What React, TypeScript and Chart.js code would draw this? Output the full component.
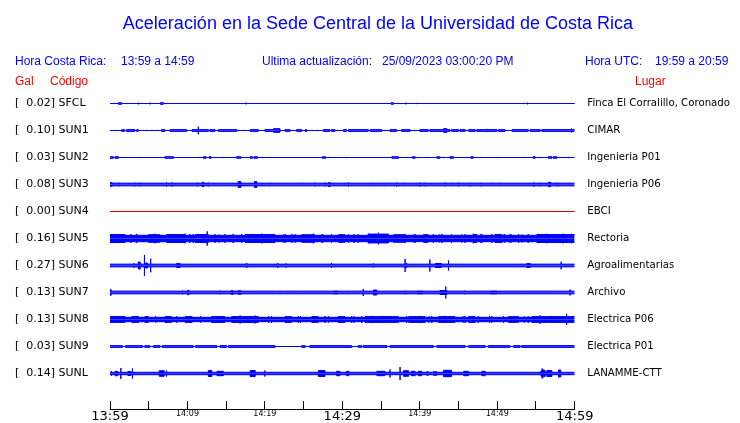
import React, { useEffect, useRef } from "react";
import { Chart, registerables } from "chart.js";
Chart.register(...registerables);

// ---- data ----
const CODES = ["SFCL", "SUN1", "SUN2", "SUN3", "SUN4", "SUN5", "SUN6", "SUN7", "SUN8", "SUN9", "SUNL"];
const GAL = [0.02, 0.10, 0.03, 0.08, 0.00, 0.16, 0.27, 0.13, 0.13, 0.03, 0.14];
const PLACES = [
  "Finca El Corralillo, Coronado", "CIMAR", "Ingenieria P01", "Ingenieria P06", "EBCI",
  "Rectoria", "Agroalimentarias", "Archivo", "Electrica P06", "Electrica P01", "LANAMME-CTT",
];
const TRACE_COLORS = ["#0000ff", "#0000ff", "#0000ff", "#0000ff", "#e00000", "#0000ff", "#0000ff", "#0000ff", "#0000ff", "#0000ff", "#0000ff"];
// minutes after 13:59
const TICK_MINUTES = [0, 5, 10, 15, 20, 25, 30, 35, 40, 45, 50, 55, 60];
const TICK_LABELS = ["13:59", "", "14:09", "", "14:19", "", "14:29", "", "14:39", "", "14:49", "", "14:59"];
const BIG_TICKS = [0, 30, 60];

// noise level (half amplitude, Gal) of each trace
const BASES = [0, 0, 0, 0.034, 0, 0.08, 0.034, 0.034, 0.055, 0.022, 0.03];

// bursts: [minute, halfAmp] single spike, or [fromMinute, toMinute, halfAmp] block
const SFCL_BURSTS = [[1.1, 1.5, 0.02], [2.5, 0.012], [3.7, 0.02], [4.1, 0.012], [5.2, 0.02], [6.5, 6.9, 0.02], [7.3, 0.015], [8.4, 0.012], [17.6, 0.02], [36.3, 36.6, 0.02], [36.9, 0.012], [37.5, 0.012], [38.2, 0.02], [39.6, 0.015], [42.0, 0.012], [42.4, 0.012], [47.5, 0.012], [51.1, 0.012], [53.2, 0.012], [53.9, 0.02]];
const SUN1_BURSTS = [[0.15, 0.015], [0.9, 0.015], [1.5, 1.85, 0.022], [2.15, 3.2, 0.022], [3.45, 3.65, 0.022], [4.8, 0.015], [5.4, 0.015], [6.1, 0.015], [6.65, 7.1, 0.022], [7.75, 9.9, 0.022], [10.6, 12.7, 0.022], [11.4, 0.095], [12.9, 13.55, 0.022], [14.0, 16.35, 0.022], [16.6, 0.015], [17.2, 0.015], [18.1, 19.15, 0.022], [20.0, 21.1, 0.022], [21.1, 21.95, 0.045], [22.6, 23.25, 0.022], [23.6, 0.015], [24.1, 24.75, 0.022], [25.2, 25.4, 0.022], [26.1, 0.015], [26.7, 0.015], [27.55, 28.4, 0.022], [28.6, 29.05, 0.022], [29.4, 0.015], [30.15, 30.55, 0.022], [30.8, 33.35, 0.022], [31.9, 0.035], [33.6, 35.1, 0.022], [35.5, 0.015], [36.15, 37.0, 0.022], [37.65, 38.75, 0.022], [39.3, 0.015], [40.0, 41.1, 0.022], [41.3, 43.05, 0.022], [43.05, 43.5, 0.045], [43.5, 43.9, 0.022], [44.1, 45.0, 0.022], [45.2, 45.85, 0.022], [46.3, 47.15, 0.022], [47.35, 49.95, 0.022], [48.6, 0.04], [50.15, 51.0, 0.022], [51.9, 54.0, 0.022], [54.25, 55.55, 0.022], [55.75, 60, 0.022], [59.6, 0.05]];
const SUN2_BURSTS = [[0, 0.43, 0.02], [0.65, 1.1, 0.02], [3.9, 0.015], [7.1, 8.2, 0.02], [11.6, 0.015], [12.05, 12.4, 0.02], [12.8, 13.05, 0.02], [14.6, 0.015], [16.35, 16.9, 0.02], [18.1, 18.4, 0.02], [18.6, 19.05, 0.02], [19.7, 0.015], [20.7, 0.015], [27.4, 27.85, 0.02], [28.3, 0.015], [30.55, 0.015], [36.4, 37.25, 0.02], [38.3, 0.015], [39.05, 39.4, 0.02], [39.8, 0.015], [40.9, 0.015], [42.2, 42.6, 0.02], [43.05, 0.015], [43.9, 44.35, 0.02], [46.6, 46.9, 0.02], [47.8, 0.015], [50.05, 0.015], [53.4, 0.015], [54.65, 54.9, 0.02], [55.55, 0.015], [56.6, 57.05, 0.02], [57.25, 57.7, 0.02], [59.2, 0.015]];
const SUN3_BURSTS = [[0, 0.3, 0.045], [0.2, 0.055], [1.15, 0.045], [3.2, 0.045], [3.9, 0.045], [7.3, 0.05], [8.0, 0.05], [11.3, 0.045], [11.9, 12.1, 0.055], [12.7, 0.045], [16.55, 16.9, 0.075], [18.65, 18.95, 0.075], [19.6, 0.042], [20.65, 0.042], [24.75, 0.042], [26.45, 0.045], [27.75, 0.045], [28.2, 28.45, 0.05], [30.8, 0.05], [33.7, 0.042], [35.4, 0.042], [37.0, 0.05], [37.9, 0.042], [40.05, 0.05], [40.7, 0.045], [43.25, 0.045], [44.1, 0.042], [45.0, 0.045], [46.4, 0.045], [46.7, 0.042], [47.8, 0.045], [49.3, 0.042], [50.3, 0.042], [54.75, 0.05], [55.55, 0.045], [56.6, 56.9, 0.055], [57.7, 0.045], [58.1, 0.042]];
const SUN4_BURSTS: number[][] = [];
const SUN5_BURSTS = [[0, 1.95, 0.1], [0.65, 0.115], [2.7, 0.11], [3.45, 0.115], [4.95, 6.45, 0.095], [5.8, 0.12], [7.3, 9.7, 0.1], [7.95, 0.115], [9.7, 0.12], [10.3, 0.11], [10.75, 0.11], [11.0, 12.7, 0.1], [12.55, 0.18], [13.55, 0.11], [14.1, 0.1], [14.85, 0.11], [15.9, 0.115], [17.0, 0.11], [17.45, 21.3, 0.1], [18.3, 0.115], [19.6, 0.12], [21.1, 0.115], [22.4, 0.1], [22.6, 0.11], [23.5, 0.11], [23.9, 0.105], [24.75, 26.45, 0.095], [24.95, 0.11], [26.25, 0.12], [27.35, 0.11], [27.5, 0.1], [28.6, 0.11], [29.5, 30.35, 0.095], [29.7, 0.11], [30.8, 0.105], [31.5, 0.11], [32.05, 0.11], [33.35, 35.95, 0.11], [33.35, 0.12], [34.65, 0.145], [35.75, 0.115], [36.6, 38.1, 0.095], [36.8, 0.11], [38.1, 0.115], [39.2, 0.1], [39.4, 0.11], [40.45, 41.1, 0.095], [40.7, 0.11], [41.75, 0.11], [42.5, 0.1], [42.85, 0.115], [44.1, 0.11], [45.4, 0.1], [45.85, 0.11], [46.9, 47.35, 0.1], [46.9, 0.12], [47.9, 0.115], [48.0, 0.11], [49.3, 0.11], [49.7, 50.6, 0.1], [50.35, 0.115], [50.9, 0.11], [51.65, 0.11], [51.8, 0.1], [52.75, 0.11], [53.2, 0.1], [54.0, 0.11], [55.1, 60, 0.1], [55.3, 0.115], [56.4, 0.12], [57.45, 0.115], [58.5, 0.12], [58.55, 0.11], [59.6, 0.12]];
const SUN6_BURSTS = [[0.55, 0.038], [2.15, 0.038], [3.1, 0.055], [3.65, 3.9, 0.088], [4.45, 0.263], [4.6, 4.85, 0.063], [5.25, 0.17], [5.9, 0.038], [8.6, 9.05, 0.05], [12.05, 0.038], [14.2, 0.035], [17.65, 0.063], [20.45, 0.035], [21.65, 0.063], [22.75, 0.05], [28.6, 0.063], [29.7, 0.035], [34.0, 0.05], [38.1, 0.163], [38.3, 0.063], [41.3, 0.15], [42.0, 42.8, 0.05], [43.7, 0.125], [45.5, 0.035], [47.1, 0.035], [48.85, 0.035], [50.5, 0.038], [53.8, 54.25, 0.05], [57.05, 0.038], [58.25, 0.095], [59.8, 0.038]];
const SUN7_BURSTS = [[0, 0.15, 0.07], [2.8, 0.038], [4.3, 0.038], [8.0, 0.035], [9.35, 0.045], [10.0, 10.2, 0.055], [14.2, 0.045], [15.6, 15.9, 0.045], [16.55, 16.9, 0.045], [17.65, 0.035], [19.35, 0.035], [21.5, 0.035], [22.4, 0.035], [24.75, 0.035], [25.6, 0.038], [26.2, 0.038], [26.9, 0.038], [28.0, 0.035], [28.85, 29.5, 0.038], [31.2, 0.035], [32.7, 0.088], [34.0, 34.45, 0.063], [38.1, 0.045], [38.75, 0.035], [39.6, 40.45, 0.038], [42.6, 43.5, 0.05], [43.35, 0.15], [45.8, 0.045], [46.3, 0.035], [47.15, 0.038], [49.1, 49.95, 0.038], [50.6, 0.035], [51.9, 0.035], [52.5, 0.035], [53.15, 0.035], [56.2, 0.038], [57.25, 0.035], [57.9, 0.035], [59.4, 0.075]];
const SUN8_BURSTS = [[0, 1.95, 0.072], [1.5, 0.085], [2.8, 3.65, 0.072], [3.65, 0.085], [4.5, 4.95, 0.072], [4.75, 0.085], [5.9, 0.08], [7.1, 7.95, 0.072], [7.3, 0.085], [8.6, 0.08], [9.7, 10.55, 0.072], [10.55, 0.085], [11.7, 0.08], [13.1, 14.85, 0.072], [13.55, 0.085], [14.2, 0.085], [15.7, 19.15, 0.072], [16.15, 0.085], [16.8, 0.1], [17.85, 0.085], [18.7, 0.1], [20.5, 0.08], [20.85, 0.085], [22.6, 23.45, 0.072], [22.8, 0.085], [24.3, 0.085], [24.6, 0.08], [26.05, 26.9, 0.072], [26.25, 0.085], [27.75, 0.085], [28.2, 0.08], [29.5, 30.35, 0.072], [29.5, 0.085], [31.2, 0.085], [31.5, 0.08], [32.5, 0.085], [32.95, 37.25, 0.072], [33.8, 0.09], [35.1, 0.09], [36.8, 0.085], [38.3, 0.085], [38.55, 40.7, 0.072], [40.05, 0.09], [41.2, 0.08], [41.55, 0.085], [42.4, 44.55, 0.072], [43.25, 0.09], [44.35, 0.085], [45.6, 0.08], [45.85, 0.085], [46.3, 47.15, 0.072], [47.55, 0.085], [49.0, 0.08], [49.3, 0.085], [50.8, 0.085], [51.45, 52.75, 0.072], [52.3, 0.085], [53.5, 0.08], [54.0, 0.085], [54.45, 60, 0.072], [55.5, 0.105], [57.05, 0.09], [58.95, 0.14]];
const SUN9_BURSTS = [[1.6, 2.0, 0], [4.2, 4.5, 0], [5.15, 5.6, 0], [6.45, 6.75, 0], [10.75, 11.05, 0], [13.8, 14.2, 0], [15.05, 15.3, 0], [16.35, 0.038], [21.3, 24.75, 0], [25.2, 25.8, 0], [31.2, 32.05, 0], [32.5, 32.7, 0], [35.75, 36.15, 0], [41.75, 42.2, 0], [45.85, 46.3, 0], [48.45, 48.85, 0], [51.65, 52.1, 0], [52.95, 53.15, 0]];
const SUNL_BURSTS = [[0.2, 0.055], [0.65, 1.0, 0.055], [1.4, 0.138], [2.3, 2.7, 0.05], [2.9, 0.125], [6.35, 7.0, 0.07], [7.3, 0.075], [10.65, 0.038], [12.7, 13.15, 0.075], [13.8, 14.65, 0.055], [18.1, 18.75, 0.075], [20.0, 0.075], [22.6, 0.038], [26.25, 0.038], [26.9, 27.75, 0.075], [29.25, 29.7, 0.055], [30.55, 30.85, 0.055], [33.15, 0.038], [34.45, 35.5, 0.055], [36.15, 0.1], [37.45, 0.163], [37.9, 38.55, 0.07], [38.9, 39.4, 0.055], [39.8, 40.25, 0.055], [40.9, 41.1, 0.045], [41.75, 42.2, 0.045], [43.05, 44.1, 0.08], [45.65, 46.3, 0.055], [48.0, 48.45, 0.055], [52.2, 0.038], [52.85, 0.035], [54.65, 0.038], [55.65, 56.2, 0.07], [55.8, 0.125], [56.0, 0.1], [56.4, 57.05, 0.075], [57.9, 58.2, 0.088], [59.6, 0.038]];

const ALL_BURSTS = [SFCL_BURSTS, SUN1_BURSTS, SUN2_BURSTS, SUN3_BURSTS, SUN4_BURSTS, SUN5_BURSTS, SUN6_BURSTS, SUN7_BURSTS, SUN8_BURSTS, SUN9_BURSTS, SUNL_BURSTS];

// ---- layout constants (Gal units on the shared vertical scale) ----
const ROW_GAP = 0.675;
const Y_MIN = -0.3375;
const Y_MAX = 7.6375;
const T_END = 60;

function envelope(base: number, bursts: number[][]) {
  const blocks = bursts.filter((b) => b.length === 3);
  const spikes = bursts.filter((b) => b.length === 2);
  const times = new Set<number>([0, T_END]);
  blocks.forEach((b) => { times.add(b[0]); times.add(b[1]); });
  spikes.forEach((s) => times.add(s[0]));
  const sorted = Array.from(times).sort((a, b) => a - b);
  const valueAt = (t: number) => {
    const cov = blocks.filter((b) => b[0] <= t && t < b[1]);
    return cov.length ? Math.max(...cov.map((b) => b[2])) : base;
  };
  const pts: { t: number; v: number }[] = [];
  for (const t of sorted) {
    const v = t >= T_END ? valueAt(T_END - 1e-6) : valueAt(t);
    const sp = spikes.filter((s) => s[0] === t);
    if (sp.length) {
      const a = Math.max(...sp.map((s) => s[1]));
      if (a > v) pts.push({ t, v: a });
    }
    pts.push({ t, v });
  }
  return pts;
}

const noPad = (s: any) => {
  s.paddingTop = 0;
  s.paddingBottom = 0;
};

export default function App() {
  const ref = useRef<HTMLCanvasElement | null>(null);

  useEffect(() => {
    if (!ref.current) return;
    const datasets: any[] = [];
    ALL_BURSTS.forEach((bursts, i) => {
      const c = i * ROW_GAP;
      const pts = envelope(BASES[i], bursts);
      const common = {
        type: "line",
        borderColor: TRACE_COLORS[i],
        backgroundColor: TRACE_COLORS[i],
        borderWidth: 1,
        pointRadius: 0,
        stepped: true,
        tension: 0,
        fill: { value: c },
        borderJoinStyle: "bevel",
        yAxisID: "y",
        xAxisID: "x",
      };
      datasets.push({ ...common, label: CODES[i] + "+", data: pts.map((p) => ({ x: p.t, y: c - p.v })) });
      datasets.push({ ...common, label: CODES[i] + "-", data: pts.map((p) => ({ x: p.t, y: c + p.v })) });
    });

    const rowTicks = (s: any) => {
      s.ticks = CODES.map((_, i) => ({ value: i * ROW_GAP }));
    };

    const chart = new Chart(ref.current, {
      type: "line",
      data: { datasets },
      options: {
        animation: false,
        responsive: false,
        devicePixelRatio: 1,
        layout: { padding: { top: 90, left: 15, right: 0, bottom: 0 } },
        plugins: { legend: { display: false }, tooltip: { enabled: false }, title: { display: false } },
        scales: {
          x: {
            type: "linear",
            min: 0,
            max: T_END,
            afterBuildTicks: (s: any) => { s.ticks = TICK_MINUTES.map((m) => ({ value: m })); },
            afterFit: (s: any) => { s.height = 14; noPad(s); },
            grid: { display: true, drawOnChartArea: false, drawTicks: true, tickLength: -8, color: "#000", lineWidth: 1 },
            border: { display: true, color: "#000", width: 1 },
            ticks: {
              autoSkip: false,
              maxRotation: 0,
              padding: 8,
              color: "#000",
              font: (ctx: any) => ({ family: "'DejaVu Sans'", size: BIG_TICKS.includes(TICK_MINUTES[ctx.index]) ? 13 : 8 }),
              callback: (_v: any, idx: number) => TICK_LABELS[idx],
            },
          },
          y: {
            type: "linear",
            position: "left",
            reverse: true,
            min: Y_MIN,
            max: Y_MAX,
            afterBuildTicks: rowTicks,
            afterFit: (s: any) => { s.width = 95; noPad(s); },
            grid: { display: false, drawTicks: false },
            border: { display: false },
            ticks: {
              crossAlign: "far",
              padding: 0,
              color: "#000",
              font: { family: "'DejaVu Sans'", size: 11 },
              callback: (_v: any, idx: number) => `[  ${GAL[idx].toFixed(2)}] ${CODES[idx]}`,
            },
          },
          y2: {
            type: "linear",
            position: "right",
            reverse: true,
            min: Y_MIN,
            max: Y_MAX,
            afterBuildTicks: rowTicks,
            afterFit: (s: any) => { s.width = 165.3; noPad(s); },
            grid: { display: false, drawTicks: false },
            border: { display: false },
            ticks: {
              crossAlign: "near",
              padding: 12.6,
              color: "#000",
              font: { family: "'DejaVu Sans'", size: 10.2 },
              callback: (_v: any, idx: number) => PLACES[idx],
            },
          },
        },
      } as any,
    });
    return () => chart.destroy();
  }, []);

  const txt = (left: number, cy: number, size: number, color: string, s: string, extra: any = {}) => (
    <div
      style={{
        position: "absolute",
        left,
        top: cy - 10,
        height: 20,
        lineHeight: "20px",
        fontFamily: "'Liberation Sans', Arial, sans-serif",
        fontSize: size,
        color,
        whiteSpace: "pre",
        ...extra,
      }}
    >
      {s}
    </div>
  );

  return (
    <div style={{ position: "fixed", left: 0, top: 0, width: 740, height: 423, background: "#fff", overflow: "hidden" }}>
      <canvas ref={ref} width={740} height={423} style={{ position: "absolute", left: 0, top: 0, width: 740, height: 423 }} />
      {txt(0, 23, 18, "#0000ff", "Aceleración en la Sede Central de la Universidad de Costa Rica", { width: 756, textAlign: "center" })}
      {txt(15, 61, 12, "#0000ff", "Hora Costa Rica:")}
      {txt(121, 61, 12, "#0000ff", "13:59 a 14:59")}
      {txt(262, 61, 12, "#0000ff", "Ultima actualización:")}
      {txt(382, 61, 12, "#0000ff", "25/09/2023 03:00:20 PM")}
      {txt(585, 61, 12, "#0000ff", "Hora UTC:")}
      {txt(655, 61, 12, "#0000ff", "19:59 a 20:59")}
      {txt(15, 81, 12, "#ff0000", "Gal")}
      {txt(50, 81, 12, "#ff0000", "Código")}
      {txt(635, 81, 12, "#ff0000", "Lugar")}
    </div>
  );
}
